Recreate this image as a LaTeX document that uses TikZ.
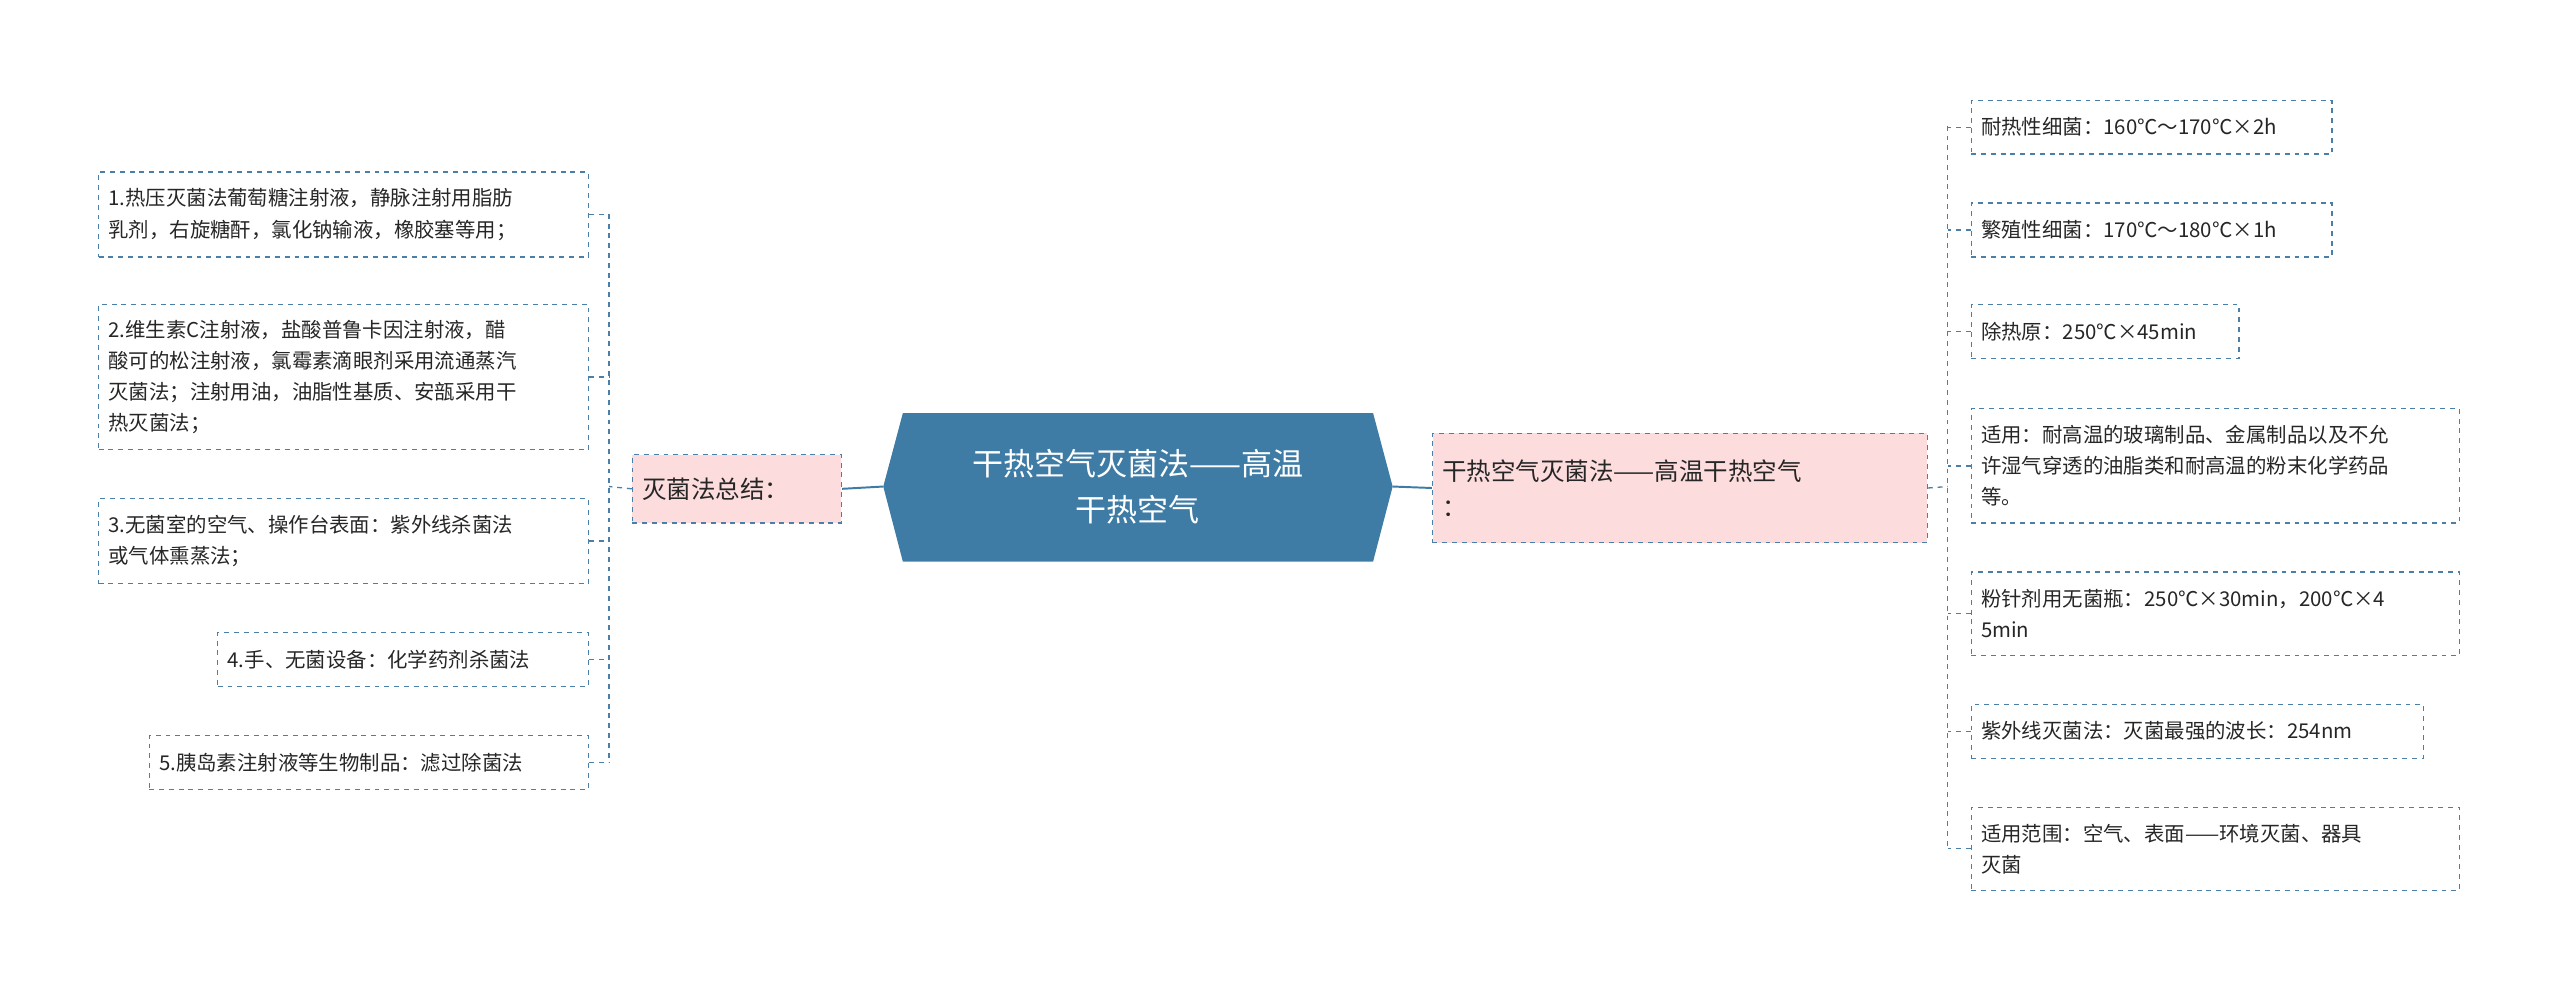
\documentclass[tikz,border=0pt]{standalone}
\usepackage{fontspec}
\setmainfont{Noto Sans CJK SC}
\definecolor{mainblue}{HTML}{3E7CA6}
\definecolor{edge}{HTML}{4A7FAA}
\definecolor{pinkf}{HTML}{FCDCDC}
\begin{document}
\begin{tikzpicture}[x=1pt,y=-1pt,
  leaf/.style={draw=edge,dashed,line width=0.8pt,anchor=north west,inner xsep=6pt,inner ysep=0pt,align=left,font=\fontsize{12.5}{19}\selectfont,text=black!85},
  sub/.style={leaf,fill=pinkf,font=\fontsize{15}{22}\selectfont},
  conn/.style={draw=mainblue,line width=1.2pt},
  br/.style={draw=edge,dashed,line width=0.8pt}]
\useasboundingbox (0,0) rectangle (1568,607);
% central
\fill[mainblue] (541,298)--(553,253)--(841,253)--(853,298)--(841,344)--(553,344)--cycle;
\node[text=white,align=center,font=\fontsize{19}{28}\selectfont] (c) at (697,298) {干热空气灭菌法——高温\\干热空气};
\coordinate (cl) at (541,298); \coordinate (cr) at (853,298);
% sub nodes
\node[sub,minimum width=128pt,minimum height=42pt,text width=116pt] (L) at (387,278) {灭菌法总结：};
\node[sub,minimum width=303pt,minimum height=67pt,text width=291pt] (R) at (877,265) {干热空气灭菌法——高温干热空气\\：};
\draw[conn] (cl) -- (L.east);
\draw[conn] (cr) -- (R.west);
% left leaves
\node[leaf,minimum width=300pt,minimum height=52pt,text width=288pt] (l1) at (60,105) {1.热压灭菌法葡萄糖注射液，静脉注射用脂肪\\乳剂，右旋糖酐，氯化钠输液，橡胶塞等用；};
\node[leaf,minimum width=300pt,minimum height=89pt,text width=288pt] (l2) at (60,186) {2.维生素C注射液，盐酸普鲁卡因注射液，醋\\酸可的松注射液，氯霉素滴眼剂采用流通蒸汽\\灭菌法；注射用油，油脂性基质、安瓿采用干\\热灭菌法；};
\node[leaf,minimum width=300pt,minimum height=52pt,text width=288pt] (l3) at (60,305) {3.无菌室的空气、操作台表面：紫外线杀菌法\\或气体熏蒸法；};
\node[leaf,minimum width=227pt,minimum height=33pt,text width=215pt] (l4) at (133,387) {4.手、无菌设备：化学药剂杀菌法};
\node[leaf,minimum width=269pt,minimum height=33pt,text width=257pt] (l5) at (91,450) {5.胰岛素注射液等生物制品：滤过除菌法};
\coordinate (lb) at (373,298);
\draw[br] (L.west) -- (lb);
\draw[br] (373,131) -- (373,467);
\foreach \n in {l1,l2,l3,l4,l5} \draw[br] (\n.east) -- (\n.east -| lb);
% right leaves
\node[leaf,minimum width=221pt,minimum height=33pt,text width=209pt] (r1) at (1207,61) {耐热性细菌：160℃～170℃×2h};
\node[leaf,minimum width=221pt,minimum height=33pt,text width=209pt] (r2) at (1207,124) {繁殖性细菌：170℃～180℃×1h};
\node[leaf,minimum width=164pt,minimum height=33pt,text width=152pt] (r3) at (1207,186) {除热原：250℃×45min};
\node[leaf,minimum width=299pt,minimum height=70pt,text width=287pt] (r4) at (1207,250) {适用：耐高温的玻璃制品、金属制品以及不允\\许湿气穿透的油脂类和耐高温的粉末化学药品\\等。};
\node[leaf,minimum width=299pt,minimum height=51pt,text width=287pt] (r5) at (1207,350) {粉针剂用无菌瓶：250℃×30min，200℃×4\\5min};
\node[leaf,minimum width=277pt,minimum height=33pt,text width=265pt] (r6) at (1207,431) {紫外线灭菌法：灭菌最强的波长：254nm};
\node[leaf,minimum width=299pt,minimum height=51pt,text width=287pt] (r7) at (1207,494) {适用范围：空气、表面——环境灭菌、器具\\灭菌};
\coordinate (rb) at (1193,298);
\draw[br] (R.east) -- (rb);
\draw[br] (1193,77) -- (1193,519);
\foreach \n in {r1,r2,r3,r4,r5,r6,r7} \draw[br] (\n.west) -- (\n.west -| rb);
\end{tikzpicture}
\end{document}
